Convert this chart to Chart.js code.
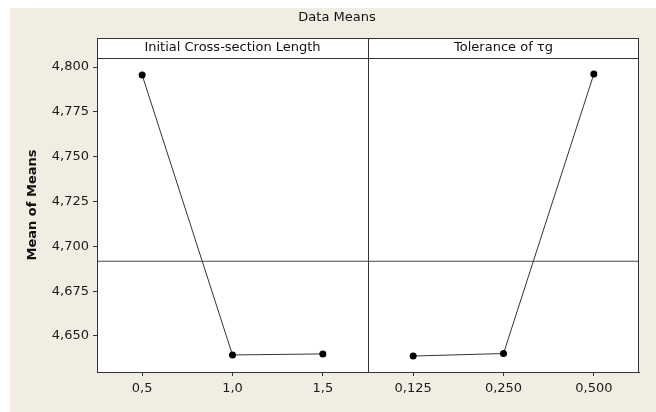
<!DOCTYPE html>
<html lang="en">
  <head>
    <meta charset="UTF-8" />
    <title>Data Means</title>
    <script src="https://cdn.jsdelivr.net/npm/chart.js@4"></script>
    <style>
      html, body { margin: 0; padding: 0; background: #fff; }
      #wrap { position: absolute; left: 10px; top: 8px; width: 646px; height: 404px; background: #f1ede3; }
    </style>
  </head>
  <body>
    <div id="wrap"><canvas id="myChart"></canvas></div>

    <script>
      // factor levels and mean responses
      const chartTitle = 'Data Means';
      const leftTitle = 'Initial Cross-section Length';
      const rightTitle = 'Tolerance of \u03c4g';
      const leftLevels = ['0,5', '1,0', '1,5'];
      const rightLevels = ['0,125', '0,250', '0,500'];
      const leftMeans = [4.7955, 4.6394, 4.6400];
      const rightMeans = [4.6388, 4.6402, 4.7961];
      const yTicks = [4.650, 4.675, 4.700, 4.725, 4.750, 4.775, 4.800];

      const allMeans = leftMeans.concat(rightMeans);
      const grandMean = allMeans.reduce((s, v) => s + v, 0) / allMeans.length;

      const xLabels = {};
      leftLevels.forEach((l, i) => { xLabels[i + 0.5] = l; });
      rightLevels.forEach((l, i) => { xLabels[leftLevels.length + i + 0.5] = l; });
      const xTicks = Object.keys(xLabels).map(Number).concat([leftLevels.length]).sort((a, b) => a - b);
      const xMax = leftLevels.length + rightLevels.length;

      const lineColor = '#333';

      const framePlugin = {
        id: 'frame',
        beforeDraw(chart) {
          const { ctx, chartArea: a } = chart;
          ctx.save();
          ctx.fillStyle = '#fff';
          ctx.fillRect(a.left, a.top, a.right - a.left, a.bottom - a.top);
          ctx.restore();
        },
        afterDraw(chart) {
          const { ctx, chartArea: a } = chart;
          const x = chart.scales.x;
          ctx.save();
          ctx.strokeStyle = lineColor;
          ctx.lineWidth = 1;
          ctx.strokeRect(a.left + 0.5, a.top + 0.5, a.right - a.left - 1, a.bottom - a.top);
          ctx.beginPath();
          ctx.moveTo(a.left, a.top + 20.5);
          ctx.lineTo(a.right, a.top + 20.5);
          ctx.stroke();
          ctx.fillStyle = '#111';
          ctx.font = '13px "DejaVu Sans"';
          ctx.textAlign = 'center';
          ctx.textBaseline = 'middle';
          ctx.fillText(chartTitle, chart.width / 2 + 4, 10);
          ctx.fillText(leftTitle, x.getPixelForValue(leftLevels.length / 2), a.top + 10);
          ctx.fillText(rightTitle, x.getPixelForValue(leftLevels.length + rightLevels.length / 2), a.top + 10);
          ctx.restore();
        }
      };

      Chart.defaults.font.family = 'DejaVu Sans';
      Chart.defaults.font.size = 13;
      Chart.defaults.color = '#1a1a1a';

      const ctx = document.getElementById('myChart').getContext('2d');
      const myChart = new Chart(ctx, {
        type: 'scatter',
        data: {
          datasets: [
            {
              label: 'Mean',
              data: [{ x: 0, y: grandMean }, { x: xMax, y: grandMean }],
              showLine: true,
              borderColor: '#444',
              borderWidth: 1,
              pointRadius: 0
            },
            {
              label: leftTitle,
              data: leftMeans.map((v, i) => ({ x: i + 0.5, y: v })),
              showLine: true,
              borderColor: lineColor,
              backgroundColor: '#000',
              borderWidth: 1,
              pointRadius: 3.5,
              pointBorderWidth: 0
            },
            {
              label: rightTitle,
              data: rightMeans.map((v, i) => ({ x: leftLevels.length + i + 0.5, y: v })),
              showLine: true,
              borderColor: lineColor,
              backgroundColor: '#000',
              borderWidth: 1,
              pointRadius: 3.5,
              pointBorderWidth: 0
            }
          ]
        },
        options: {
          responsive: true,
          maintainAspectRatio: false,
          animation: false,
          layout: { padding: { top: 30, right: 17, left: 0, bottom: 0 } },
          plugins: {
            legend: { display: false },
            tooltip: { enabled: false },
            title: { display: false }
          },
          scales: {
            x: {
              type: 'linear',
              min: 0,
              max: xMax,
              afterBuildTicks: scale => { scale.ticks = xTicks.map(v => ({ value: v })); },
              afterFit: scale => { scale.height = 40; },
              border: { color: lineColor },
              grid: {
                color: c => (c.tick && c.tick.value === leftLevels.length ? lineColor : 'transparent'),
                tickColor: c => (c.tick && c.tick.value === leftLevels.length ? 'transparent' : lineColor),
                tickLength: 4
              },
              ticks: {
                padding: 5,
                maxRotation: 0,
                autoSkip: false,
                callback: v => xLabels[v] || ''
              }
            },
            y: {
              min: 4.6299,
              max: 4.8162,
              afterBuildTicks: scale => { scale.ticks = yTicks.map(v => ({ value: v })); },
              afterFit: scale => { scale.width = 87; },
              border: { color: lineColor },
              grid: { drawOnChartArea: false, tickColor: lineColor, tickLength: 4 },
              ticks: {
                padding: 4,
                callback: v => v.toFixed(3).replace('.', ',')
              },
              title: {
                display: true,
                text: 'Mean of Means',
                color: '#111',
                font: { size: 13, weight: 'bold' },
                padding: { top: 15, bottom: 0 }
              }
            }
          }
        },
        plugins: [framePlugin]
      });
    </script>
  </body>
</html>
